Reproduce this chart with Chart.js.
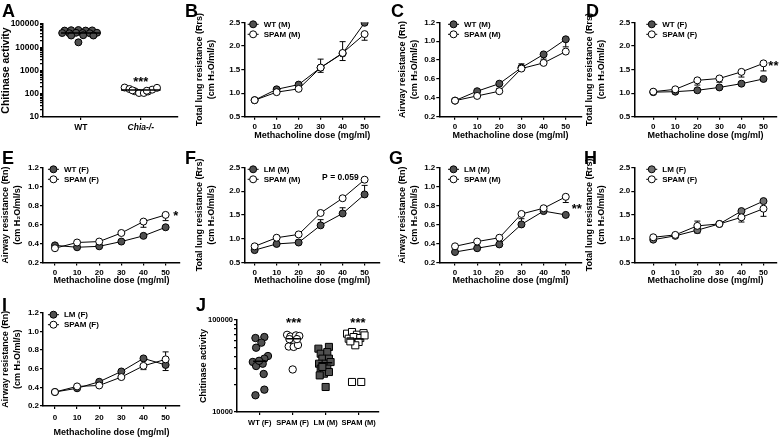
<!DOCTYPE html>
<html lang="en">
<head>
<meta charset="UTF-8">
<title>Chitinase activity and airway resistance</title>
<script src="https://cdn.jsdelivr.net/npm/chart.js"></script>
<style>
  body { margin: 0; width: 781px; height: 440px; background: #fff; position: relative; overflow: hidden; }
  canvas { position: absolute; }
  .tag { position: absolute; font: bold 18px 'Liberation Sans', Arial, sans-serif; line-height: 18px; color: #000; }
</style>
</head>
<body>
<canvas id="cA"></canvas><canvas id="cB"></canvas><canvas id="cC"></canvas><canvas id="cD"></canvas>
<canvas id="cE"></canvas><canvas id="cF"></canvas><canvas id="cG"></canvas><canvas id="cH"></canvas>
<canvas id="cI"></canvas><canvas id="cJ"></canvas>
<div class="tag" style="left:2px;top:2px">A</div>
<div class="tag" style="left:185px;top:2px">B</div>
<div class="tag" style="left:391px;top:2px">C</div>
<div class="tag" style="left:586px;top:2px">D</div>
<div class="tag" style="left:2px;top:149px">E</div>
<div class="tag" style="left:185px;top:149px">F</div>
<div class="tag" style="left:389px;top:149px">G</div>
<div class="tag" style="left:584px;top:149px">H</div>
<div class="tag" style="left:2px;top:296px">I</div>
<div class="tag" style="left:196px;top:296px">J</div>
<script>
const FONT = "'Liberation Sans', Arial, 'DejaVu Sans', sans-serif";
const DARK = '#505050';
const MID = '#707070';

// methacholine doses (mg/ml)
const doses = [0, 10, 20, 30, 40, 50];

// A: chitinase activity, WT vs Chia-/- (x = group + jitter)
const groupsA = ['WT', 'Chia-/-'];
const aWTx = [-0.27, -0.16, -0.04, 0.08, 0.19, -0.31, -0.19, -0.08, 0.03, 0.15, 0.27, -0.16, 0.04, 0.21, -0.04];
const aWTy = [52000, 54000, 55000, 52000, 53000, 41000, 40000, 42000, 41000, 40000, 42000, 32000, 33000, 32000, 16300];
const aKOx = [-0.27, -0.19, -0.1, -0.03, 0.05, 0.12, 0.19, 0.27, -0.14, 0.1];
const aKOy = [185, 160, 128, 108, 108, 125, 150, 180, 140, 135];
const meanA = [41000, 145];

// B: total lung resistance, males
const bWT = [0.85, 1.08, 1.18, 1.54, 1.84, 2.49];
const bSPAM = [0.85, 1.02, 1.09, 1.54, 1.85, 2.25];
const bWTerr = [0, 0, 0.03, 0.18, 0.25, 0];
const bSPAMerr = [0, 0, 0, -0.1, -0.16, -0.13];

// C: airway resistance, males
const cWT = [0.37, 0.47, 0.55, 0.72, 0.86, 1.02];
const cSPAM = [0.37, 0.42, 0.47, 0.71, 0.77, 0.89];
const cWTerr = [0, 0, -0.05, 0.04, -0.05, -0.08];
const cSPAMerr = [0, 0, 0, 0, 0, 0];

// D: total lung resistance, females
const dWT = [1.02, 1.03, 1.06, 1.12, 1.2, 1.3];
const dSPAM = [1.03, 1.08, 1.27, 1.31, 1.45, 1.63];
const dWTerr = [0, 0, 0, 0, 0, 0.03];
const dSPAMerr = [0, 0, -0.1, -0.08, -0.11, -0.16];

// E: airway resistance, females
const eWT = [0.38, 0.36, 0.37, 0.42, 0.48, 0.57];
const eSPAM = [0.35, 0.41, 0.42, 0.51, 0.63, 0.7];
const eWTerr = [0, 0, 0, 0, 0, 0];
const eSPAMerr = [0, 0, 0, 0, -0.06, -0.06];

// F: total lung resistance, LM vs SPAM males
const fLM = [0.76, 0.89, 0.92, 1.28, 1.53, 1.93];
const fSPAM = [0.84, 1.02, 1.09, 1.54, 1.85, 2.24];
const fLMerr = [0, 0, 0.05, 0.12, 0.12, 0.19];
const fSPAMerr = [0, 0, 0, 0, 0, 0];

// G: airway resistance, LM vs SPAM males
const gLM = [0.31, 0.35, 0.39, 0.6, 0.74, 0.7];
const gSPAM = [0.37, 0.42, 0.46, 0.71, 0.77, 0.89];
const gLMerr = [0, 0, 0, 0.06, 0, 0];
const gSPAMerr = [0, 0, 0, 0, 0, -0.06];

// H: total lung resistance, LM vs SPAM females
const hLM = [0.98, 1.06, 1.18, 1.31, 1.58, 1.79];
const hSPAM = [1.03, 1.08, 1.27, 1.31, 1.45, 1.63];
const hLMerr = [0, 0, -0.06, 0, 0, 0];
const hSPAMerr = [0, 0, 0.1, 0, -0.1, -0.16];

// I: airway resistance, LM vs SPAM females
const iLM = [0.35, 0.39, 0.46, 0.57, 0.71, 0.64];
const iSPAM = [0.35, 0.41, 0.42, 0.51, 0.63, 0.7];
const iLMerr = [0, 0, 0, 0, 0, -0.06];
const iSPAMerr = [0, 0, 0, 0, -0.04, 0.08];

// J: chitinase activity per group (x = group + jitter)
const groupsJ = ['WT (F)', 'SPAM (F)', 'LM (M)', 'SPAM (M)'];
const jWTx = [-0.13, 0.14, 0.05, -0.11, 0.25, 0.14, -0.21, -0.11, 0.09, 0.12, -0.13, 0.14, -0.02];
const jWTy = [63700, 65300, 56700, 50000, 40600, 38000, 35000, 31600, 33500, 25900, 15200, 17500, 36000];
const jSPAMFx = [0.83, 0.93, 1.1, 1.2, 0.97, 1.08, 0.88, 1.03, 1.16, 1.0, 1.13, 0.9];
const jSPAMFy = [69000, 66000, 68000, 67000, 58500, 57500, 51500, 51000, 53500, 29000, 62000, 62000];
const jLMx = [1.78, 2.1, 1.85, 2.05, 1.9, 2.1, 1.8, 2.0, 2.15, 1.85, 2.05, 1.95, 2.1, 1.82, 2.0, 1.9];
const jLMy = [48800, 51000, 43000, 44800, 38000, 38000, 33500, 33500, 34900, 29600, 29600, 26100, 27200, 25000, 18700, 30900];
const jSPAMMx = [2.65, 2.8, 2.95, 3.15, 2.7, 2.85, 3.05, 3.0, 2.9, 2.75, 2.8, 3.08, 3.18];
const jSPAMMy = [71000, 74000, 69200, 72000, 62600, 65300, 63700, 57700, 53100, 58600, 21200, 21200, 68000];
const meanJ = [35600, 62600, 34200, 62000];

const lungTitle = ['Total lung resistance (Rrs)', '(cm H\u2082O/ml/s)'];
const rnTitle = ['Airway resistance (Rn)', '(cm H\u2082O/ml/s)'];
const lungAxis = { min: 0.5, max: 2.5, ticks: [0.5, 1.0, 1.5, 2.0, 2.5] };
const rnAxis = { min: 0.2, max: 1.2, ticks: [0.2, 0.4, 0.6, 0.8, 1.0, 1.2] };

// error bars: signed, drawn from the mean up or down
const errorBars = {
  id: 'errorBars',
  beforeDatasetsDraw(chart) {
    const ctx = chart.ctx;
    const ys = chart.scales.y;
    chart.data.datasets.forEach((ds, i) => {
      if (!ds.err) return;
      const meta = chart.getDatasetMeta(i);
      ds.data.forEach((p, j) => {
        const e = ds.err[j];
        if (!e) return;
        const px = meta.data[j].x;
        const y0 = ys.getPixelForValue(p.y);
        const y1 = ys.getPixelForValue(p.y + e);
        ctx.save();
        ctx.strokeStyle = '#000';
        ctx.lineWidth = 1;
        ctx.beginPath();
        ctx.moveTo(px, y0); ctx.lineTo(px, y1);
        ctx.moveTo(px - 3, y1); ctx.lineTo(px + 3, y1);
        ctx.stroke();
        ctx.restore();
      });
    });
  }
};

function legendPlugin() {
  return {
    id: 'panelLegend',
    afterDraw(chart) {
      const ctx = chart.ctx;
      const x0 = chart.scales.x.getPixelForValue(0) - 1.5;
      const top = chart.chartArea.top;
      chart.data.datasets.forEach((ds, i) => {
        const y = top + 2 + i * 10;
        ctx.save();
        ctx.strokeStyle = '#000';
        ctx.lineWidth = 1;
        ctx.beginPath(); ctx.moveTo(x0 - 5.5, y); ctx.lineTo(x0 + 5.5, y); ctx.stroke();
        ctx.beginPath(); ctx.arc(x0, y, 3.5, 0, Math.PI * 2);
        ctx.fillStyle = ds.pointBackgroundColor; ctx.fill(); ctx.stroke();
        ctx.fillStyle = '#000';
        ctx.font = 'bold 8px ' + FONT;
        ctx.textAlign = 'left';
        ctx.textBaseline = 'middle';
        ctx.fillText(ds.label, x0 + 10.5, y);
        ctx.restore();
      });
    }
  };
}

function notesPlugin(items) {
  return {
    id: 'notes',
    afterDraw(chart) {
      const ctx = chart.ctx;
      items.forEach(n => {
        const x = chart.scales.x.getPixelForValue(n.x);
        let y = chart.scales.y.getPixelForValue(n.y);
        ctx.save();
        ctx.fillStyle = '#000';
        ctx.font = 'bold ' + n.size + 'px ' + FONT;
        ctx.textAlign = 'center';
        if (n.star) { ctx.textBaseline = 'alphabetic'; y += n.size * 0.55; }
        else ctx.textBaseline = 'middle';
        ctx.fillText(n.text, x, y);
        ctx.restore();
      });
    }
  };
}

function placeCanvas(id, box) {
  const c = document.getElementById(id);
  c.width = box.w; c.height = box.h;
  c.style.left = box.x + 'px'; c.style.top = box.y + 'px';
  return c;
}

function axisBase() {
  return {
    grid: { drawOnChartArea: false, tickLength: 3, color: '#000', lineWidth: 1.2 },
    border: { display: true, color: '#000', width: 1.5 },
  };
}

// col: x geometry, row: y geometry
function linePanel(id, col, row, yAxis, yTitle, series, notes) {
  const canvas = placeCanvas(id, { x: col.x, y: row.y, w: col.w, h: row.h });
  new Chart(canvas, {
    type: 'line',
    data: {
      datasets: series.map(s => ({
        label: s.label,
        data: doses.map((d, i) => ({ x: d, y: s.values[i] })),
        err: s.err,
        borderColor: '#000', borderWidth: 1,
        pointRadius: 3.5, pointHoverRadius: 3.5, pointBorderWidth: 1,
        pointBorderColor: '#000', pointBackgroundColor: s.fill,
        order: s.order
      }))
    },
    options: {
      responsive: false, animation: false, devicePixelRatio: 1, events: [],
      layout: { padding: { left: 0, top: row.top, right: col.right, bottom: 0 } },
      plugins: { legend: { display: false }, tooltip: { enabled: false } },
      scales: {
        x: Object.assign(axisBase(), {
          type: 'linear', min: col.xmin, max: col.xmax,
          afterBuildTicks: s => { s.ticks = doses.map(v => ({ value: v })); },
          afterFit: s => { s.height = row.xh; },
          ticks: { padding: row.tickPad, color: '#000', font: { family: FONT, size: 8, weight: 'bold' } },
          title: { display: true, text: 'Methacholine dose (mg/ml)', color: '#000',
                   font: { family: FONT, size: 9, weight: 'bold' }, padding: { top: 0, bottom: row.tpad } }
        }),
        y: Object.assign(axisBase(), {
          type: 'linear', min: yAxis.min, max: yAxis.max,
          afterBuildTicks: s => { s.ticks = yAxis.ticks.map(v => ({ value: v })); },
          afterFit: s => { s.width = col.yw; },
          ticks: { padding: 1, color: '#000', font: { family: FONT, size: 8, weight: 'bold' },
                   callback: v => v.toFixed(1) },
          title: { display: true, text: yTitle, color: '#000',
                   font: { family: FONT, size: 9, weight: 'bold', lineHeight: 1.33 }, padding: { top: 0, bottom: 0 } }
        })
      }
    },
    plugins: [errorBars, legendPlugin(), notesPlugin(notes)]
  });
}

function pts(xs, ys) { return xs.map((x, i) => ({ x: x, y: ys[i] })); }
function dots(data, fill, style, r) {
  return { data: data, pointStyle: style, pointRadius: r, pointHoverRadius: r, pointBorderWidth: 1,
           pointBorderColor: '#000', pointBackgroundColor: fill, showLine: false, order: 1 };
}
function meanLine(x0, x1, v) {
  return { data: [{ x: x0, y: v }, { x: x1, y: v }], showLine: true, pointRadius: 0,
           borderColor: '#000', borderWidth: 1.5, order: 0 };
}
function logTicks(lo, hi) {
  const out = [];
  for (let p = lo; p < hi; p *= 10) for (let k = 1; k < 10; k++) out.push({ value: p * k });
  out.push({ value: hi });
  return out;
}

function dotPanel(id, box, geo, groups, datasets, yMin, yMax, majors, yTitle, titleSize, tickSize, notes) {
  const canvas = placeCanvas(id, box);
  new Chart(canvas, {
    type: 'scatter',
    data: { datasets: datasets },
    options: {
      responsive: false, animation: false, devicePixelRatio: 1, events: [],
      layout: { padding: { left: 0, top: geo.top, right: geo.right, bottom: 0 } },
      plugins: { legend: { display: false }, tooltip: { enabled: false } },
      scales: {
        x: Object.assign(axisBase(), {
          type: 'linear', min: geo.xmin, max: geo.xmax,
          afterBuildTicks: s => { s.ticks = groups.map((g, i) => ({ value: i })); },
          afterFit: s => { s.height = geo.xh; },
          ticks: { padding: 3, color: '#000', callback: v => groups[Math.round(v)],
                   font: c => ({ family: FONT, size: tickSize, weight: 'bold',
                                 style: groups[c.index] === 'Chia-/-' ? 'italic' : 'normal' }) }
        }),
        y: Object.assign(axisBase(), {
          type: 'logarithmic', min: yMin, max: yMax,
          afterBuildTicks: s => { s.ticks = logTicks(yMin, yMax); },
          afterFit: s => { s.width = geo.yw; },
          ticks: { padding: 1, color: '#000', autoSkip: false, font: { family: FONT, size: tickSize, weight: 'bold' },
                   callback: v => majors.includes(v) ? String(v) : '' },
          title: { display: true, text: yTitle, color: '#000',
                   font: { family: FONT, size: titleSize, weight: 'bold' }, padding: { top: 0, bottom: 0 } }
        })
      }
    },
    plugins: [notesPlugin(notes)]
  });
}

// layout geometry (pixels)
const col1 = { x: 0, w: 190, yw: 43, right: 10, xmin: -5.4, xmax: 56.5 };
const col2 = { x: 194, w: 196, yw: 50.3, right: 10, xmin: -4.7, xmax: 57.0 };
const col3 = { x: 397, w: 193, yw: 42.3, right: 8.3, xmin: -7.1, xmax: 57.2 };
const col4 = { x: 584, w: 197, yw: 50.3, right: 4, xmin: -8.6, xmax: 55.9 };
const row1 = { y: 0, h: 145, top: 22.3, xh: 28.3, tpad: 4, tickPad: 2 };
const row2 = { y: 145, h: 145, top: 22.3, xh: 27.5, tpad: 4, tickPad: 2 };
const row3 = { y: 290, h: 150, top: 22.7, xh: 34, tpad: 2, tickPad: 4 };

dotPanel('cA', { x: 0, y: 0, w: 190, h: 145 }, { yw: 43, top: 24, xh: 28, right: 12, xmin: -0.63, xmax: 1.62 },
  groupsA, [
    dots(pts(aWTx, aWTy), DARK, 'circle', 3.5),
    dots(pts(aKOx.map(v => v + 1), aKOy), '#fff', 'circle', 3.5),
    meanLine(-0.33, 0.33, meanA[0]),
    meanLine(0.67, 1.33, meanA[1])
  ], 10, 100000, [10, 100, 1000, 10000, 100000], 'Chitinase activity', 10.5, 8.5,
  [{ text: '***', x: 1, y: 430, size: 13, star: true }]);

linePanel('cB', col2, row1, lungAxis, lungTitle, [
  { label: 'WT (M)', values: bWT, err: bWTerr, fill: DARK, order: 1 },
  { label: 'SPAM (M)', values: bSPAM, err: bSPAMerr, fill: '#fff', order: 0 }
], []);

linePanel('cC', col3, row1, rnAxis, rnTitle, [
  { label: 'WT (M)', values: cWT, err: cWTerr, fill: DARK, order: 1 },
  { label: 'SPAM (M)', values: cSPAM, err: cSPAMerr, fill: '#fff', order: 0 }
], []);

linePanel('cD', col4, row1, lungAxis, lungTitle, [
  { label: 'WT (F)', values: dWT, err: dWTerr, fill: DARK, order: 1 },
  { label: 'SPAM (F)', values: dSPAM, err: dSPAMerr, fill: '#fff', order: 0 }
], [{ text: '**', x: 54.5, y: 1.65, size: 13, star: true }]);

linePanel('cE', col1, row2, rnAxis, rnTitle, [
  { label: 'WT (F)', values: eWT, err: eWTerr, fill: DARK, order: 1 },
  { label: 'SPAM (F)', values: eSPAM, err: eSPAMerr, fill: '#fff', order: 0 }
], [{ text: '*', x: 54.6, y: 0.72, size: 13, star: true }]);

linePanel('cF', col2, row2, lungAxis, lungTitle, [
  { label: 'LM (M)', values: fLM, err: fLMerr, fill: DARK, order: 1 },
  { label: 'SPAM (M)', values: fSPAM, err: fSPAMerr, fill: '#fff', order: 0 }
], [{ text: 'P = 0.059', x: 39, y: 2.28, size: 8.5 }]);

linePanel('cG', col3, row2, rnAxis, rnTitle, [
  { label: 'LM (M)', values: gLM, err: gLMerr, fill: DARK, order: 1 },
  { label: 'SPAM (M)', values: gSPAM, err: gSPAMerr, fill: '#fff', order: 0 }
], [{ text: '**', x: 55, y: 0.79, size: 13, star: true }]);

linePanel('cH', col4, row2, lungAxis, lungTitle, [
  { label: 'LM (F)', values: hLM, err: hLMerr, fill: MID, order: 1 },
  { label: 'SPAM (F)', values: hSPAM, err: hSPAMerr, fill: '#fff', order: 0 }
], []);

linePanel('cI', col1, row3, rnAxis, rnTitle, [
  { label: 'LM (F)', values: iLM, err: iLMerr, fill: DARK, order: 1 },
  { label: 'SPAM (F)', values: iSPAM, err: iSPAMerr, fill: '#fff', order: 0 }
], []);

dotPanel('cJ', { x: 198, y: 290, w: 192, h: 150 }, { yw: 39, top: 30, xh: 28, right: 11.3, xmin: -0.69, xmax: 3.61 },
  groupsJ, [
    dots(pts(jWTx, jWTy), DARK, 'circle', 3.7),
    dots(pts(jSPAMFx, jSPAMFy), '#fff', 'circle', 3.7),
    dots(pts(jLMx, jLMy), DARK, 'rect', 5),
    dots(pts(jSPAMMx, jSPAMMy), '#fff', 'rect', 5),
    meanLine(-0.2, 0.22, meanJ[0]),
    meanLine(0.8, 1.22, meanJ[1]),
    meanLine(1.78, 2.2, meanJ[2]),
    meanLine(2.65, 3.15, meanJ[3])
  ], 10000, 100000, [10000, 100000], 'Chitinase activity', 9, 7.5,
  [{ text: '***', x: 1.03, y: 100000, size: 13, star: true },
   { text: '***', x: 2.98, y: 100000, size: 13, star: true }]);
</script>
</body>
</html>
